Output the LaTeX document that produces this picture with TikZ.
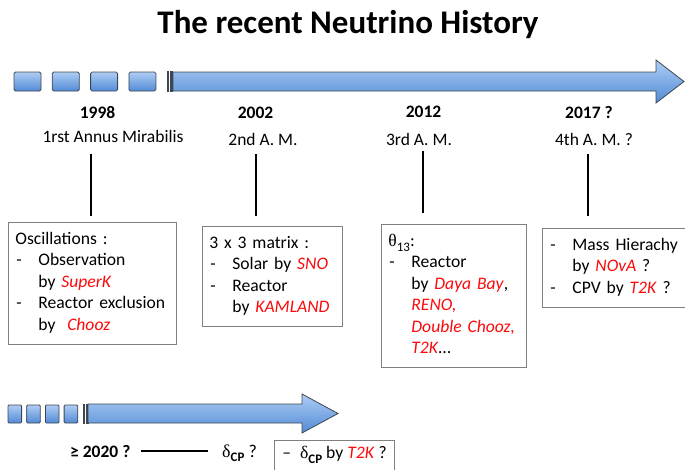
\documentclass[tikz,border=0pt]{standalone}
\usepackage{fontspec}
\setmainfont{Carlito}
\newfontfamily\greekfont{Liberation Serif}

\definecolor{arrowtop}{RGB}{174,205,244}
\definecolor{arrowbot}{RGB}{82,139,214}
\definecolor{arrowline}{RGB}{62,70,82}
\definecolor{boxline}{RGB}{128,128,128}
\definecolor{expred}{RGB}{250,10,10}

\newcommand{\exper}[1]{\textcolor{expred}{\textit{#1}}}
\newcommand{\itm}{\makebox[23pt][l]{\hspace{1pt}-}}
\newcommand{\cont}{\hspace*{23pt}}
\newcommand{\gsym}[1]{{\greekfont #1}}
\newcommand{\lowsub}[1]{\raisebox{-0.55ex}{\fontsize{13}{13}\selectfont #1}}

\tikzset{
	timebar/.style={draw=arrowline, line width=0.8pt, top color=arrowtop, bottom color=arrowbot},
	timetick/.style={draw=arrowline, line width=0.8pt, fill=arrowline},
	year/.style={anchor=base, inner sep=0pt, font=\bfseries\fontsize{17.5}{21}\selectfont},
	epoch/.style={anchor=base, inner sep=0pt, font=\fontsize{17.5}{21}\selectfont},
	stem/.style={line width=2.2pt},
	histbox/.style={draw=boxline, line width=0.8pt, anchor=north west, align=left,
		inner xsep=7pt, inner ysep=7pt, font=\fontsize{17.6}{21.5}\selectfont,
		execute at begin node=\strut, execute at end node=\strut},
}

\begin{document}
\begin{tikzpicture}[x=1pt, y=-1pt]
		\useasboundingbox (0,0) rectangle (685,469);
		\clip (0,0) rectangle (685,469);
		\node[anchor=base, font=\bfseries\fontsize{33}{40}\selectfont] (title) at (348,33) {The recent Neutrino History};
		% upper time line
		\foreach \x in {14,52.3,90.6,128.9}
			\draw[timebar, rounded corners=1.5pt] (\x,72) rectangle ++(27,19);
		\draw[timetick] (167,71) rectangle (168.8,91);
		\draw[timetick] (170.4,71) rectangle (172.4,91);
		\draw[timebar] (173,72) -- (656,72) -- (656,60) -- (684,81.5) -- (656,103) -- (656,91) -- (173,91) -- cycle;
		\node[year] (y1998) at (97.5,118) {1998};
		\node[year] (y2002) at (255.5,118) {2002};
		\node[year] (y2012) at (423.5,117) {2012};
		\node[year] (y2017) at (589,118) {2017 ?};
		\node[epoch] (am1) at (113,142) {1rst Annus Mirabilis};
		\node[epoch] (am2) at (263,145) {2nd A. M.};
		\node[epoch] (am3) at (419,145) {3rd A. M.};
		\node[epoch] (am4) at (594,145) {4th A. M. ?};
		\foreach \n/\x/\ya/\yb in {1/91/154/216, 2/256/154/216, 3/423/151/213, 4/588/154/216}{
			\coordinate (up\n) at (\x,\ya);
			\coordinate (dn\n) at (\x,\yb);
			\draw[stem] (up\n) -- (dn\n);
		}
		\node[histbox, text width=154pt] (box1) at (8,222) {Oscillations :\\
			\itm Observation\\
			\cont by \exper{SuperK}\\
			\itm \mbox{Reactor exclusion}\\
			\cont by\ \ \exper{Chooz}};
		\node[histbox, text width=126pt] (box2) at (202,226) {3 x 3 matrix :\\
			\itm Solar by \exper{SNO}\\
			\itm Reactor\\
			\cont by \exper{KAMLAND}};
		\node[histbox, text width=131pt] (box3) at (381,224) {\gsym{θ}\lowsub{13}:\\
			\itm Reactor\\
			\cont by \exper{Daya Bay},\\
			\cont \exper{RENO,}\\
			\cont \mbox{\exper{Double Chooz,}}\\
			\cont \exper{T2K}\ldots};
		\node[histbox, text width=136pt] (box4) at (542,228) {\itm Mass Hierachy\\
			\cont by \exper{NOvA} ?\\
			\itm CPV by \exper{T2K} ?};
		% lower time line
		\foreach \x in {8,26.7,45.4,64.1}
			\draw[timebar, rounded corners=1pt] (\x,405) rectangle ++(13.6,18);
		\draw[timetick] (83,404) rectangle (84.6,423);
		\draw[timetick] (86,404) rectangle (88,423);
		\draw[timebar] (88,404) -- (302,404) -- (302,394) -- (338,413.5) -- (302,433) -- (302,423) -- (88,423) -- cycle;
		\node[year, anchor=base west] (y2020) at (70,457) {≥ 2020 ?};
		\node[epoch, anchor=base west, font=\fontsize{18}{21.6}\selectfont] (dcp) at (222,457) {\gsym{δ}\lowsub{\textbf{CP}} ?};
		\draw[line width=1.8pt] ([xshift=10pt]y2020.east) -- ([xshift=-14pt]dcp.west |- y2020.east);
		\node[histbox, inner xsep=8pt, inner ysep=6pt] (box5) at (274,440) {–\hspace{9pt}\gsym{δ}\lowsub{\textbf{CP}} by \exper{T2K} ?\\ \vphantom{x}};
\end{tikzpicture}
\end{document}
